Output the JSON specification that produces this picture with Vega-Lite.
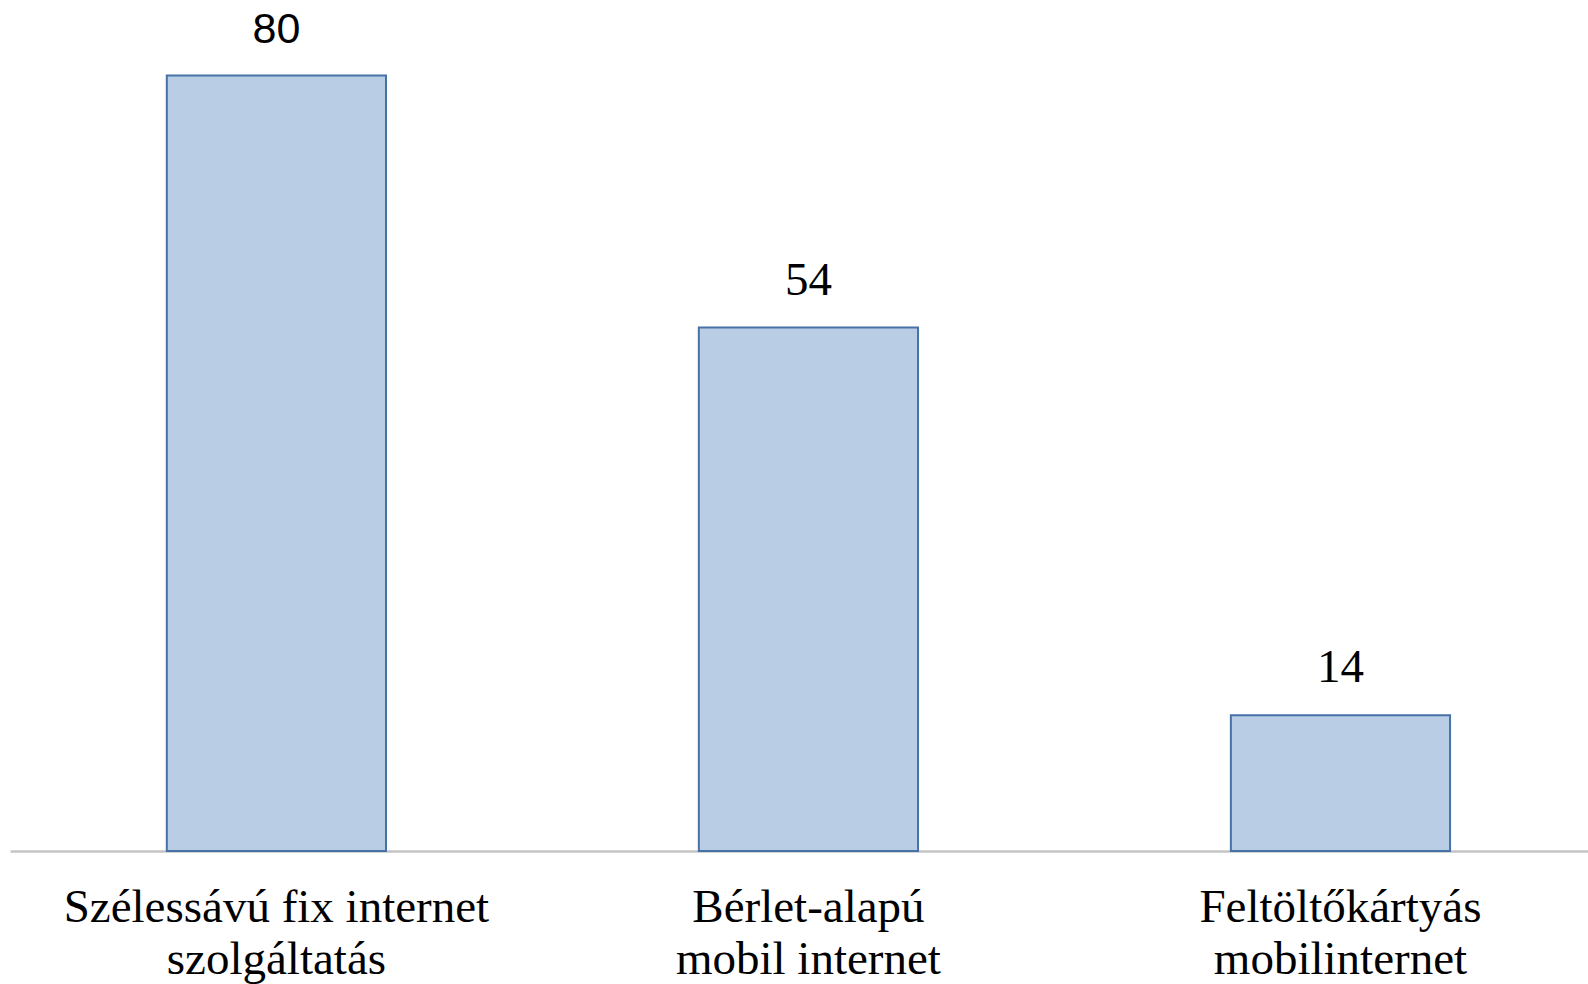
{
  "$schema": "https://vega.github.io/schema/vega-lite/v6.json",
  "width": 1578,
  "height": 851,
  "autosize": "none",
  "padding": {"left": 10, "top": 0, "right": 0, "bottom": 133},
  "background": "white",
  "config": {"view": {"stroke": null}},
  "data": {
    "values": [
      {"category": "Szélessávú fix internet\nszolgáltatás", "value": 80},
      {"category": "Bérlet-alapú\nmobil internet", "value": 54},
      {"category": "Feltöltőkártyás\nmobilinternet", "value": 14}
    ]
  },
  "encoding": {
    "x": {
      "field": "category",
      "type": "nominal",
      "sort": null,
      "scale": {"paddingInner": 0.588, "paddingOuter": 0.277, "align": 0.532},
      "axis": {
        "title": null,
        "labelAngle": 0,
        "ticks": false,
        "tickSize": 0,
        "labelPadding": 33,
        "labelBaseline": "top",
        "labelFont": "Liberation Serif",
        "labelFontSize": 47,
        "labelLineHeight": 52,
        "labelLimit": 0,
        "labelOverlap": false,
        "labelColor": "#000000",
        "labelExpr": "split(datum.label, '\\n')",
        "domainColor": "#c4c4c4",
        "domainWidth": 2.5,
        "grid": false
      }
    },
    "y": {
      "field": "value",
      "type": "quantitative",
      "scale": {"domain": [0, 87.8], "nice": false},
      "axis": null
    }
  },
  "layer": [
    {
      "mark": {"type": "bar", "fill": "#b9cde5", "stroke": "#4672a6", "strokeWidth": 2}
    },
    {
      "transform": [{"filter": "datum.value == 80"}],
      "mark": {"type": "text", "font": "Liberation Sans", "fontSize": 43, "baseline": "middle", "dy": -46, "color": "#000000"},
      "encoding": {"text": {"field": "value", "type": "quantitative"}}
    },
    {
      "transform": [{"filter": "datum.value != 80"}],
      "mark": {"type": "text", "font": "Liberation Serif", "fontSize": 47, "baseline": "middle", "dy": -47, "color": "#000000"},
      "encoding": {"text": {"field": "value", "type": "quantitative"}}
    }
  ]
}
